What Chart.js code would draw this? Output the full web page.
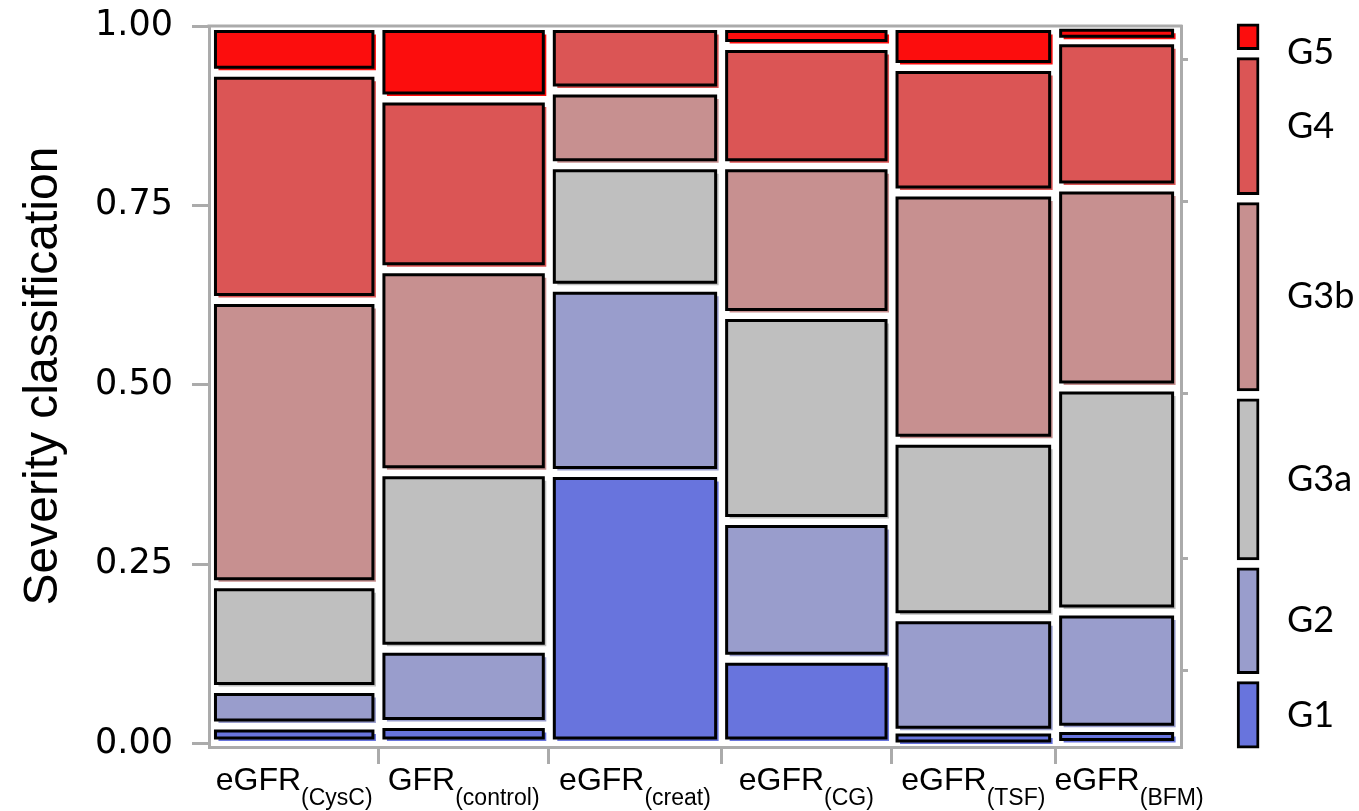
<!DOCTYPE html>
<html>
<head>
<meta charset="utf-8">
<script src="https://cdn.jsdelivr.net/npm/chart.js@4.4.0/dist/chart.umd.min.js"></script>
<style>
  html, body { margin: 0; padding: 0; background: #fff; }
</style>
</head>
<body>
<canvas id="mosaic" width="1359" height="811"></canvas>
<script>
// methods along x, with the subscript part of each label
const methods = ['eGFR', 'GFR', 'eGFR', 'eGFR', 'eGFR', 'eGFR'];
const methodSubs = ['(CysC)', '(control)', '(creat)', '(CG)', '(TSF)', '(BFM)'];
// relative column widths (share of patients per method)
const colWidths = [0.174, 0.176, 0.178, 0.176, 0.169, 0.127];

// severity stages, bottom to top
const stages = ['G1', 'G2', 'G3a', 'G3b', 'G4', 'G5'];
const stageColors = ['#6874dd', '#999dcc', '#bfbfbf', '#c79090', '#db5555', '#fc0d0d'];

// share of each stage within each method (columns in the same order as methods)
const g1  = [0.025, 0.027, 0.377, 0.118, 0.015, 0.019];
const g2  = [0.051, 0.105, 0.258, 0.192, 0.161, 0.165];
const g3a = [0.146, 0.246, 0.171, 0.287, 0.246, 0.312];
const g3b = [0.396, 0.283, 0.104, 0.209, 0.346, 0.279];
const g4  = [0.317, 0.238, 0.090, 0.166, 0.175, 0.205];
const g5  = [0.065, 0.101, 0.000, 0.028, 0.057, 0.020];
const shares = [g1, g2, g3a, g3b, g4, g5];

const yTicks = [0, 0.25, 0.5, 0.75, 1];

// column edges on the x axis
const colEdges = [0];
colWidths.forEach(w => colEdges.push(colEdges[colEdges.length - 1] + w));

// overall share of every stage (weighted by column width) -> legend column
const marginal = shares.map(arr => arr.reduce((a, v, i) => a + v * colWidths[i], 0));
const margCum = [0];
marginal.forEach(m => margCum.push(margCum[margCum.length - 1] + m));

// gaps between the tiles, in axis units (thin tiles keep a minimum height)
const pxX = 1 / 968, pxY = 1 / 717;
const gapX = 5.5 * pxX;
const gapY = 5.5 * pxY;
const minH = 6 * pxY;

function tile(x0, x1, y0, y1, dx, dy) {
  return [
    {x: x0 + dx, y: y0 + dy}, {x: x0 + dx, y: y1 + dy}, {x: x1 + dx, y: y1 + dy},
    {x: x1 + dx, y: y0 + dy}, {x: x0 + dx, y: y0 + dy}, {x: x0 + dx, y: y1 + dy}
  ];
}

const datasets = [];
colWidths.forEach((w, i) => {
  let base = 0;
  shares.forEach((arr, k) => {
    const v = arr[i];
    if (v > 0) {
      const x0 = colEdges[i] + gapX, x1 = colEdges[i + 1] - gapX;
      const inset = Math.min(gapY, (v - minH) / 2);
      const y0 = base + inset, y1 = base + v - inset;
      // soft coloured offset behind the tile
      datasets.push({
        type: 'line',
        data: tile(x0, x1, y0, y1, 3 * pxX, -3 * pxY),
        fill: 'shape',
        backgroundColor: stageColors[k],
        borderWidth: 0,
        pointRadius: 0,
        pointHoverRadius: 0,
        tension: 0,
        order: 2
      });
      datasets.push({
        type: 'line',
        data: tile(x0, x1, y0, y1, 0, 0),
        fill: 'shape',
        backgroundColor: stageColors[k],
        borderColor: '#000',
        borderWidth: 3,
        borderJoinStyle: 'miter',
        pointRadius: 0,
        pointHoverRadius: 0,
        tension: 0,
        order: 1
      });
    }
    base += v;
  });
});

// legend column to the right of the plot, same proportions as the marginal
const legLo = -0.0123, legHi = 1.0086, legGap = 4 * pxY;
const legX = 1.0723;
function legY(c) { return legLo + c * (legHi - legLo); }
datasets.push({
  type: 'bar',
  data: stages.map((s, k) => ({x: legX, y: [legY(margCum[k]) + legGap, legY(margCum[k + 1]) - legGap]})),
  backgroundColor: stageColors,
  borderColor: '#000',
  borderWidth: 3,
  borderSkipped: false,
  barThickness: 22,
  clip: false,
  order: 1
});

const axisGray = '#ababab';

const mosaicText = {
  id: 'mosaicText',
  beforeDatasetsDraw(chart) {
    // top edge of the frame
    const ctx = chart.ctx, a = chart.chartArea;
    ctx.save();
    ctx.strokeStyle = axisGray;
    ctx.lineWidth = 3;
    ctx.beginPath();
    ctx.moveTo(a.left - 1.5, a.top);
    ctx.lineTo(a.right + 1.5, a.top);
    ctx.stroke();
    ctx.restore();
  },
  afterDraw(chart) {
    const ctx = chart.ctx;
    const xs = chart.scales.x, ys = chart.scales.y;
    const area = chart.chartArea;
    ctx.save();
    ctx.fillStyle = '#000';
    ctx.textBaseline = 'alphabetic';
    ctx.textAlign = 'left';
    let prevRight = -Infinity;
    methods.forEach((m, i) => {
      const cx = xs.getPixelForValue((colEdges[i] + colEdges[i + 1]) / 2);
      ctx.font = '32px "Liberation Sans"';
      const w1 = ctx.measureText(m).width;
      ctx.font = '23px "Liberation Sans"';
      const w2 = ctx.measureText(methodSubs[i]).width;
      // keep neighbouring labels apart
      const left = Math.max(cx - (w1 + w2) / 2, prevRight + 9);
      prevRight = left + w1 + w2;
      ctx.font = '32px "Liberation Sans"';
      ctx.fillText(m, left, area.bottom + 43);
      ctx.font = '23px "Liberation Sans"';
      ctx.fillText(methodSubs[i], left + w1, area.bottom + 58);
    });

    // legend labels
    ctx.font = '36px Lato';
    ctx.textBaseline = 'middle';
    stages.forEach((s, k) => {
      let py = ys.getPixelForValue(legY((margCum[k] + margCum[k + 1]) / 2));
      py = Math.max(py, area.top + 26);
      ctx.fillText(s, area.right + 106, py);
    });

    // y axis title
    ctx.translate(44, 376);
    ctx.rotate(-Math.PI / 2);
    ctx.textAlign = 'center';
    ctx.font = '48px "Liberation Sans"';
    ctx.fillText('Severity classification', 0, 0);
    ctx.restore();
  }
};

new Chart(document.getElementById('mosaic'), {
  type: 'line',
  data: {datasets: datasets},
  plugins: [mosaicText],
  options: {
    responsive: false,
    devicePixelRatio: 1,
    animation: false,
    events: [],
    layout: {padding: {top: 26, left: 0, right: 0, bottom: 0}},
    plugins: {
      legend: {display: false},
      tooltip: {enabled: false}
    },
    scales: {
      x: {
        type: 'linear',
        position: 'bottom',
        min: -0.001,
        max: 1.003,
        offset: false,
        afterBuildTicks: s => { s.ticks = colEdges.slice(1, -1).map(v => ({value: v})); },
        afterFit: s => { s.height = 64; },
        ticks: {display: false},
        grid: {drawOnChartArea: false, offset: false, tickLength: 17, color: axisGray, lineWidth: 3},
        border: {color: axisGray, width: 3}
      },
      y: {
        type: 'linear',
        position: 'left',
        min: -0.005,
        max: 1,
        afterBuildTicks: s => { s.ticks = yTicks.map(v => ({value: v})); },
        afterFit: s => { s.width = 209; s.paddingTop = 0; s.paddingBottom = 0; },
        ticks: {
          callback: v => v.toFixed(2),
          font: {family: '"DejaVu Sans"', size: 35},
          color: '#000',
          padding: 19
        },
        grid: {drawOnChartArea: false, tickLength: 17, color: axisGray, lineWidth: 3},
        border: {color: axisGray, width: 3}
      },
      yRight: {
        type: 'linear',
        position: 'right',
        min: -0.005,
        max: 1,
        afterBuildTicks: s => { s.ticks = margCum.slice(1, -1).map(v => ({value: v})); },
        afterFit: s => { s.width = 178; s.paddingTop = 0; s.paddingBottom = 0; },
        ticks: {display: false},
        grid: {drawOnChartArea: false, tickLength: 7, color: axisGray, lineWidth: 3},
        border: {color: axisGray, width: 3}
      }
    }
  }
});
</script>
</body>
</html>
